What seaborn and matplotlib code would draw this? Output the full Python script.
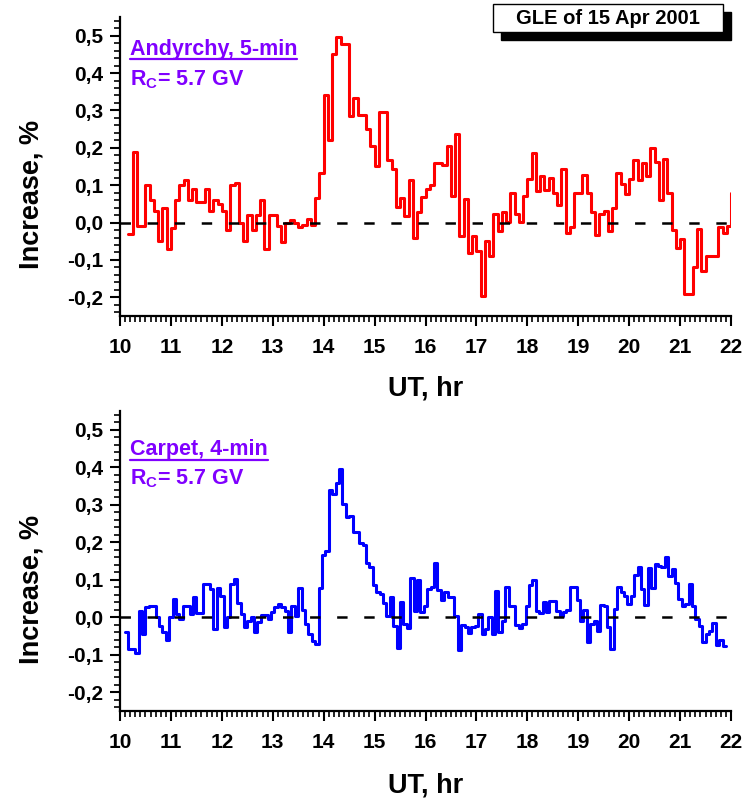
import numpy as np
import pandas as pd
import matplotlib
matplotlib.use('Agg')
import matplotlib.pyplot as plt
import seaborn as sns
from matplotlib.ticker import MultipleLocator, FixedLocator, FixedFormatter
from matplotlib.patches import Rectangle
from matplotlib.lines import Line2D

# ---------------- data ----------------
andyrchy_start_hr = 10 + 10 / 60
andyrchy_step_min = 5
andyrchy_values = [
    -0.03, 0.19, -0.01, -0.01, 0.10, 0.06, 0.03, -0.05, 0.04, -0.07, -0.015, 0.06,
    0.10, 0.113, 0.06, 0.09, 0.055, 0.055, 0.09, 0.03, 0.06, 0.05, 0.03, -0.02,
    0.10, 0.107, 0.0, -0.05, 0.02, -0.02, 0.02, 0.06, -0.07,
    0.02, 0.02, -0.01, -0.053, 0.0, 0.007, 0.0, -0.013, -0.006, 0.009, -0.007,
    0.067, 0.132, 0.341, 0.22, 0.45, 0.497, 0.477, 0.477, 0.285, 0.334, 0.287,
    0.287, 0.25, 0.205, 0.152, 0.297, 0.297, 0.167, 0.143, 0.042, 0.067, 0.018,
    0.114, -0.04, 0.027, 0.069,
    0.09, 0.10, 0.16, 0.16, 0.153, 0.205, 0.071, 0.236, -0.036, 0.064, -0.082,
    -0.037, -0.076, -0.196, -0.049, -0.089, 0.022, -0.022, 0.027, 0.002, 0.08,
    0.022, 0.002, 0.071, 0.116, 0.185, 0.085, 0.125, 0.087, 0.12, 0.08, 0.046,
    0.144, -0.029, -0.013, 0.08,
    0.078, 0.127, 0.078, 0.029, -0.034, 0.022, 0.031, -0.022, 0.038, 0.132,
    0.102, 0.076, 0.116, 0.168, 0.114, 0.159, 0.125, 0.199, 0.162, 0.061, 0.171,
    0.08, -0.02, -0.069, -0.043, -0.19, -0.19, -0.12, -0.018, -0.129, -0.09,
    -0.09, -0.09, -0.011, -0.029, -0.009, 0.078,
]

carpet_start_hr = 10 + 6 / 60
carpet_step_min = 4
carpet_values = [
    -0.04, -0.085, -0.085, -0.095, 0.018, -0.045, 0.027, 0.029, 0.029, 0.0,
    -0.022, -0.04, -0.061, 0.0, 0.049, 0.009, -0.004, 0.029, 0.031, 0.009, 0.053,
    0.011, 0.011, 0.089, 0.089, 0.076, -0.031, 0.078, 0.058, -0.025, 0.0, 0.089,
    0.102, 0.037, 0.009, -0.027, -0.009, 0.002, -0.04, -0.013, 0.006, 0.006, -0.004,
    0.013, 0.027, 0.036, 0.027, 0.018, -0.04, 0.031, 0.004, 0.078, 0.02, -0.018,
    -0.045, -0.064, -0.07, 0.078, 0.165, 0.176, 0.34, 0.33, 0.357, 0.395, 0.303,
    0.267, 0.269, 0.227, 0.227, 0.198, 0.194, 0.144, 0.134, 0.085, 0.067, 0.062,
    0.037, 0.004, 0.053, -0.022, -0.082, 0.04, -0.018, -0.029, 0.105, 0.018, 0.1,
    0.013,
    0.029, 0.076, 0.08, 0.145, 0.073, 0.045, 0.067, 0.055, 0.055, 0.004, -0.086,
    -0.02, -0.027, -0.043, -0.027, -0.024, 0.009, -0.045, -0.031, 0.002, -0.045,
    0.07, -0.04, -0.009, 0.08, 0.029, 0.029, -0.02, -0.029, -0.018, 0.031, 0.085,
    0.1, 0.018, 0.011, 0.04, 0.013, 0.043, 0.043, 0.018, 0.004, 0.013, 0.02, 0.08,
    0.08,
    0.045, -0.011, 0.02, -0.067, -0.018, -0.011, -0.036, 0.034, 0.031, -0.025,
    -0.085, 0.022, 0.08, 0.067, 0.058, 0.036, 0.056, 0.114, 0.135, 0.076, 0.034,
    0.131, 0.078, 0.141, 0.138, 0.134, 0.162, 0.109, 0.128, 0.091, 0.049, 0.029,
    0.036, 0.089, 0.029, -0.004, -0.022, -0.067, -0.045, -0.036, -0.016, -0.073,
    -0.06, -0.076,
]

x_ticks = list(range(10, 23))
y_ticks = [-0.2, -0.1, 0.0, 0.1, 0.2, 0.3, 0.4, 0.5]
y_tick_labels = ['-0,2', '-0,1', '0,0', '0,1', '0,2', '0,3', '0,4', '0,5']
title_text = 'GLE of 15 Apr 2001'
panel_names = ['Andyrchy, 5-min', 'Carpet, 4-min']
cutoff_text = r'R$_{\mathbf{C}}$= 5.7 GV'
x_label = 'UT, hr'
y_label = 'Increase, %'

# ---------------- style ----------------
sns.set_theme(style='ticks')
plt.rcParams['font.family'] = ['Liberation Sans', 'DejaVu Sans']
plt.rcParams['font.weight'] = 'bold'
plt.rcParams['mathtext.fontset'] = 'custom'
plt.rcParams['mathtext.bf'] = 'Liberation Sans:bold'
plt.rcParams['mathtext.rm'] = 'Liberation Sans:bold'
plt.rcParams['mathtext.default'] = 'bf'
plt.rcParams['lines.scale_dashes'] = False

PURPLE = '#8000FF'

fig = plt.figure(figsize=(7.52, 8.0), dpi=100)
fig.patch.set_facecolor('white')
ax1 = fig.add_axes([120 / 752, 1 - 316 / 800, 611 / 752, 299 / 800])
ax2 = fig.add_axes([120 / 752, 1 - 711 / 800, 611 / 752, 300 / 800])


def make_df(start, step_min, values, close=False):
    n = len(values)
    t = start + np.arange(n + (1 if close else 0)) * step_min / 60.0
    v = list(values) + ([values[-1]] if close else [])
    return pd.DataFrame({'UT': t, 'inc': v})


df1 = make_df(andyrchy_start_hr, andyrchy_step_min, andyrchy_values)
df2 = make_df(carpet_start_hr, carpet_step_min, carpet_values, close=True)

sns.lineplot(data=df1, x='UT', y='inc', ax=ax1, color='#FF0000', linewidth=2.2,
             drawstyle='steps-post', estimator=None, sort=False, legend=False)
sns.lineplot(data=df2, x='UT', y='inc', ax=ax2, color='#0000FF', linewidth=2.2,
             drawstyle='steps-post', estimator=None, sort=False, legend=False)

texts_to_underline = []
for ax, name, ypos, ypos2, xl_y in [(ax1, panel_names[0], 0.892, 0.789, -0.241),
                                    (ax2, panel_names[1], 0.870, 0.773, -0.247)]:
    ax.axhline(0, color='black', lw=1.8, dashes=(7.5, 12), zorder=5)
    ax.set_xlim(10, 22)
    ax.set_ylim(-0.25, 0.55)
    ax.set_facecolor('white')
    for s in ['top', 'right']:
        ax.spines[s].set_visible(False)
    for s in ['left', 'bottom']:
        ax.spines[s].set_linewidth(1.6)
        ax.spines[s].set_color('black')
    ax.xaxis.set_major_locator(FixedLocator(x_ticks))
    ax.xaxis.set_major_formatter(FixedFormatter([str(v) for v in x_ticks]))
    ax.xaxis.set_minor_locator(MultipleLocator(0.1))
    ax.yaxis.set_major_locator(FixedLocator(y_ticks))
    ax.yaxis.set_major_formatter(FixedFormatter(y_tick_labels))
    ax.yaxis.set_minor_locator(MultipleLocator(0.02))
    ax.tick_params(axis='both', which='major', direction='out', length=7, width=1.5,
                   labelsize=15, color='black', labelcolor='black')
    ax.tick_params(axis='x', which='major', pad=9)
    ax.tick_params(axis='y', which='major', pad=5)
    ax.tick_params(axis='both', which='minor', direction='out', length=4, width=1.2,
                   color='black')
    for lab in ax.get_xticklabels() + ax.get_yticklabels():
        lab.set_fontweight('bold')
    ax.set_xlabel(x_label, fontsize=19.5, fontweight='bold', color='black')
    ax.set_ylabel(y_label, fontsize=19.5, fontweight='bold', color='black')
    ax.xaxis.set_label_coords(0.5, xl_y)
    ax.xaxis.label.set_va('center')
    ax.yaxis.set_label_coords(-0.145, 0.405)
    ax.yaxis.label.set_va('center')
    t = ax.text(0.016, ypos, name, transform=ax.transAxes, color=PURPLE,
                fontsize=15.5, fontweight='bold', ha='left', va='center')
    texts_to_underline.append(t)
    ax.text(0.016, ypos2, cutoff_text, transform=ax.transAxes, color=PURPLE,
            fontsize=15.5, fontweight='bold', ha='left', va='center')

# title box with shadow
fig.add_artist(Rectangle((500.7 / 752, 1 - 40 / 800), 230 / 752, 28 / 800,
                         transform=fig.transFigure, facecolor='black', edgecolor='black',
                         zorder=10))
fig.add_artist(Rectangle((492.7 / 752, 1 - 31.7 / 800), 230 / 752, 27.7 / 800,
                         transform=fig.transFigure, facecolor='white', edgecolor='black',
                         linewidth=1.0, zorder=11))
fig.text(607.7 / 752, 1 - 18 / 800, title_text, ha='center', va='center', fontsize=14.5,
         fontweight='bold', color='black', zorder=12)

# underline the panel names
fig.canvas.draw()
renderer = fig.canvas.get_renderer()
inv = fig.transFigure.inverted()
for t in texts_to_underline:
    bb = t.get_window_extent(renderer)
    (x0, y0) = inv.transform((bb.x0, bb.y0 + 1.0))
    (x1, _) = inv.transform((bb.x1, bb.y0 + 1.0))
    fig.add_artist(Line2D([x0, x1], [y0, y0], transform=fig.transFigure,
                          color=PURPLE, linewidth=1.6))

fig.savefig('out.png', dpi=100, facecolor='white')
